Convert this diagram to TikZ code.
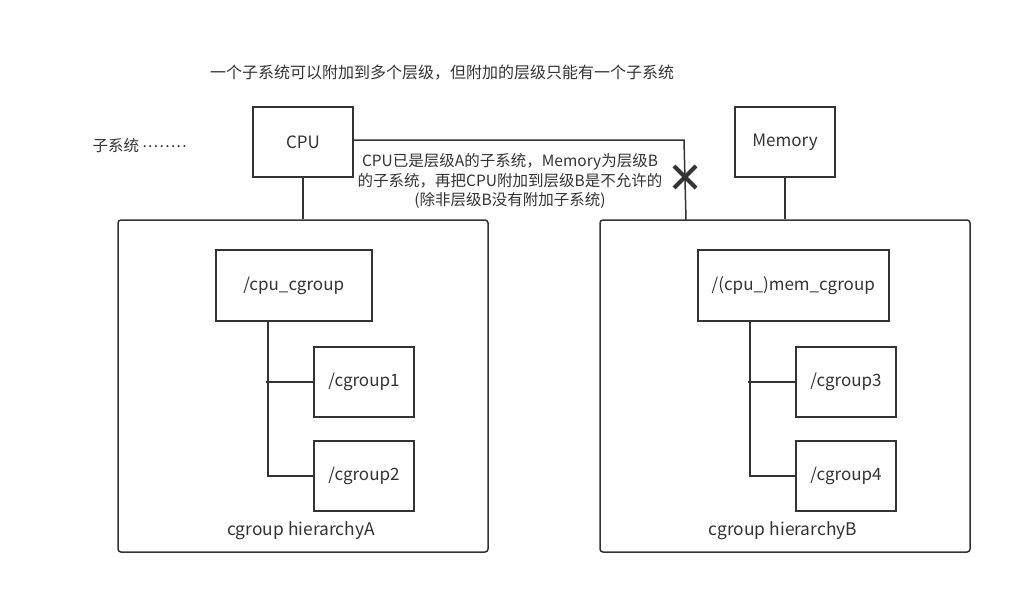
\documentclass[tikz,border=0pt]{standalone}
\usepackage{fontspec}
\setmainfont{Noto Sans CJK SC}
\usetikzlibrary{calc,positioning}
\definecolor{linegray}{HTML}{333333}
\definecolor{textgray}{HTML}{333333}
\newcommand\sepdots{\raisebox{0.3em}{.\kern1.4pt.\kern1.4pt.\kern1.4pt.\kern1.4pt.\kern1.4pt.\kern1.4pt.\kern1.4pt.}}

\tikzset{
  box/.style={draw=linegray, line width=1.5pt, minimum width=100pt, minimum height=70pt,
    inner sep=0pt, text=textgray, font=\fontsize{17}{19}\selectfont},
  frame/.style={draw=linegray, line width=1.5pt, rounded corners=3pt},
  link/.style={draw=linegray, line width=1.5pt},
  note/.style={text=textgray, font=\fontsize{16}{19}\selectfont},
}

\begin{document}
\begin{tikzpicture}[x=1pt,y=-1pt]
    \useasboundingbox (0,0) rectangle (1032,615);

    % title and side label
    \node[note] (title) at (442,73) {一个子系统可以附加到多个层级，但附加的层级只能有一个子系统};
    \node[note, anchor=west, font=\fontsize{15.5}{18}\selectfont] (subsys) at (89,146) {子系统 \sepdots};

    % subsystems
    \node[box] (cpu) at (303,142) {CPU};
    \node[box] (mem) at (785,142) {Memory};

    % the two hierarchies
    \foreach \hx/\nm/\toplabel/\tw/\ca/\cb in {0/A/cpu\_cgroup/156/1/2, 482/B/(cpu\_)mem\_cgroup/191/3/4} {
        \begin{scope}[shift={(\hx,0)}]
            \node[frame, minimum width=370pt, minimum height=332pt] (hier\nm) at (303,386) {};
            \node[box, anchor=west, minimum width=\tw pt, minimum height=71pt] (top\nm) at (215,285.5) {/\toplabel};
            \node[box] (c\ca) at (364,382) {/cgroup\ca};
            \node[box] (c\cb) at (364,476) {/cgroup\cb};
            \coordinate (trunk\nm) at ([xshift=53pt]top\nm.south west);
            \draw[link] (trunk\nm) |- (c\cb.west);
            \draw[link] ([xshift=-2pt]c\ca.west -| trunk\nm) -- (c\ca.west);
            \node[note, font=\fontsize{17.4}{19}\selectfont] (lab\nm) at (301,531) {cgroup hierarchy\nm};
        \end{scope}
    }

    % attachments
    \draw[link] (cpu.south) -- (hierA.north);
    \draw[link] (mem.south) -- (hierB.north);

    % forbidden attachment of CPU to hierarchy B
    \coordinate (bend) at (684,140);
    \coordinate (blockend) at (686,220);
    \coordinate (cross) at (685,177);
    \draw[link] (cpu.east |- bend) -- (bend) -- (blockend);
    \draw[linegray, line width=4pt] (cross) +(-11,-11) -- +(11,11) +(-11,11) -- +(11,-11);
    \node[note, align=center, font=\fontsize{15.5}{19.5}\selectfont] (why) at (510,181)
        {CPU已是层级A的子系统，Memory为层级B\\的子系统，再把CPU附加到层级B是不允许的\\(除非层级B没有附加子系统)};
\end{tikzpicture}
\end{document}
